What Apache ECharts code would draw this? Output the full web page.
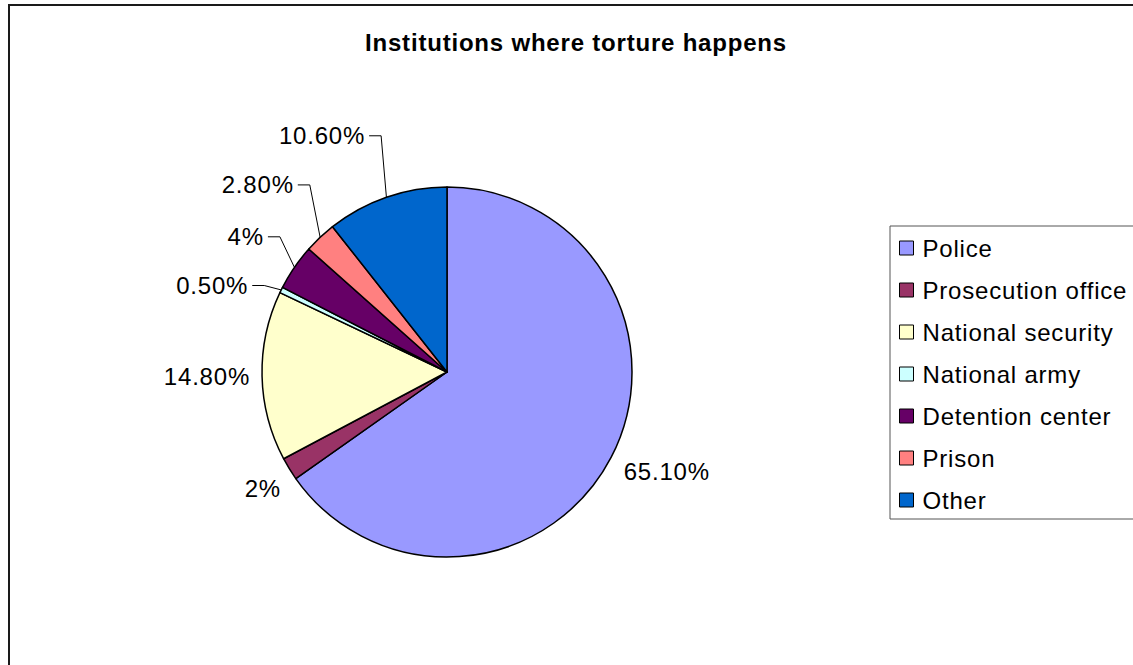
<!DOCTYPE html>
<html>
<head>
<meta charset="utf-8">
<title>Institutions where torture happens</title>
<script src="https://cdn.jsdelivr.net/npm/echarts@6/dist/echarts.min.js"></script>
<style>
  html, body { margin: 0; padding: 0; background: #ffffff; }
  #chart { width: 1133px; height: 665px; letter-spacing: 0.8px; }
</style>
</head>
<body>
<div id="chart"></div>
<script>
// Share of reported cases by institution (percent)
const categories = ['Police', 'Prosecution office', 'National security', 'National army', 'Detention center', 'Prison', 'Other'];
const shares = [65.1, 2, 14.8, 0.5, 4, 2.8, 10.6];
const sliceColors = ['#9999FF', '#993366', '#FFFFCC', '#CCFFFF', '#660066', '#FF8080', '#0066CC'];

// Leader line lengths [radial, horizontal] and whether a leader line is drawn
const labelLineLengths = [[32, -21], [38, -29], [0, 7], [10, 19], [54, -19], [72, -28], [65, -5]];
const showLeader = [false, false, false, true, true, true, true];

const FONT = "'Liberation Sans', Arial, Helvetica, sans-serif";

function formatShare(v) {
  return Number.isInteger(v) ? v + '%' : v.toFixed(2) + '%';
}

const chart = echarts.init(document.getElementById('chart'), null, { renderer: 'svg' });

chart.setOption({
  animation: false,
  backgroundColor: '#ffffff',
  color: sliceColors,
  title: {
    text: 'Institutions where torture happens',
    left: 576,
    top: 30,
    textAlign: 'center',
    padding: 0,
    textStyle: { fontFamily: FONT, fontSize: 24, fontWeight: 'bold', color: '#000000' }
  },
  legend: {
    orient: 'vertical',
    left: 890,
    top: 226,
    padding: [8, 40, 5, 9],
    borderColor: '#555555',
    borderWidth: 1,
    itemWidth: 14,
    itemHeight: 14,
    itemGap: 14,
    icon: 'rect',
    selectedMode: false,
    itemStyle: { borderColor: '#000000', borderWidth: 1 },
    textStyle: { fontFamily: FONT, fontSize: 24, lineHeight: 28, color: '#000000', padding: [0, 0, 0, 4] },
    data: categories
  },
  graphic: [{
    type: 'rect',
    silent: true,
    shape: { x: 9, y: 5, width: 1200, height: 700 },
    style: { fill: 'none', stroke: '#1a1a1a', lineWidth: 2 }
  }],
  series: [{
    type: 'pie',
    center: [447, 372],
    radius: 185,
    startAngle: 90,
    clockwise: true,
    avoidLabelOverlap: false,
    silent: true,
    itemStyle: { borderColor: '#000000', borderWidth: 1.5 },
    label: {
      show: true,
      position: 'outside',
      fontFamily: FONT,
      fontSize: 24,
      color: '#000000',
      distanceToLabelLine: 5,
      formatter: p => formatShare(p.value)
    },
    labelLine: { lineStyle: { color: '#000000', width: 1 } },
    // Leader line: short horizontal stub beside the label, then straight to the slice edge
    labelLayout: function (p) {
      const pts = p.labelLinePoints;
      if (!pts) return {};
      const r = p.labelRect;
      const onLeft = r.x + r.width / 2 < pts[0][0];
      const edge = onLeft ? r.x + r.width : r.x;
      const s = onLeft ? 1 : -1;
      const y = r.y + r.height / 2;
      return { labelLinePoints: [pts[0], [edge + s * 16, y], [edge + s * 4, y]] };
    },
    data: categories.map((name, i) => ({
      name: name,
      value: shares[i],
      labelLine: {
        show: showLeader[i],
        length: labelLineLengths[i][0],
        length2: labelLineLengths[i][1]
      }
    }))
  }]
});
</script>
</body>
</html>
